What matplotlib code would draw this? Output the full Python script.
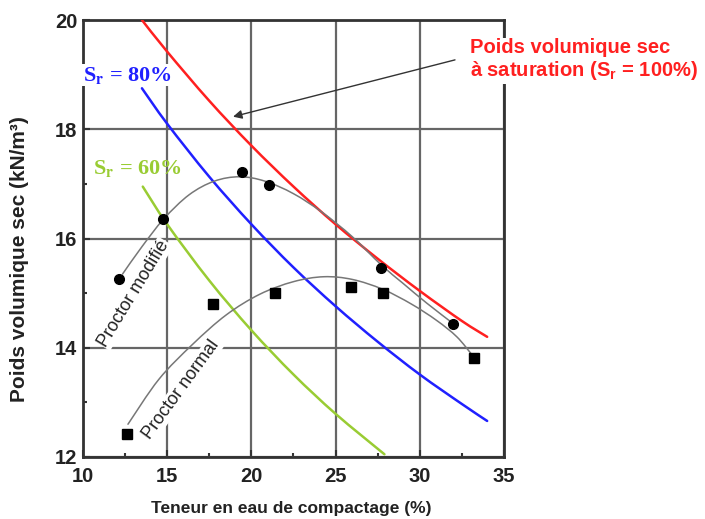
import matplotlib
matplotlib.use("Agg")
import matplotlib.pyplot as plt
from matplotlib.ticker import MultipleLocator
from matplotlib.path import Path
from matplotlib.patches import PathPatch

plt.rcParams['font.family'] = ['Liberation Sans', 'DejaVu Sans']
plt.rcParams['mathtext.fontset'] = 'custom'
plt.rcParams['mathtext.rm'] = 'Liberation Sans'
plt.rcParams['mathtext.bf'] = 'Liberation Sans:bold'

# ---- data ----
w_sr100 = [13.5, 15, 17.5, 20, 22.5, 25, 27.5, 30, 32.5, 34]
gd_sr100 = [20.0, 19.42, 18.52, 17.7, 16.95, 16.26, 15.63, 15.04, 14.49, 14.2]
w_sr80 = [13.5, 15, 17.5, 20, 22.5, 25, 27.5, 30, 32.5, 34]
gd_sr80 = [18.75, 18.1, 17.13, 16.26, 15.47, 14.76, 14.11, 13.51, 12.97, 12.66]
w_sr60 = [13.55, 15, 17.5, 20, 22.5, 25, 27.9]
gd_sr60 = [16.95, 16.26, 15.23, 14.32, 13.51, 12.79, 12.05]

w_mod = [12.15, 14.75, 19.45, 21.05, 27.7, 31.95]
gd_mod = [15.25, 16.36, 17.22, 16.98, 15.46, 14.44]
w_norm = [12.6, 17.7, 21.4, 25.9, 27.8, 33.2]
gd_norm = [12.42, 14.80, 15.0, 15.11, 15.0, 13.81]

w_mod_fit = [12.35, 13.5, 14.8, 16.3, 17.8, 19.3, 20.8, 22.5, 24.2, 26.0, 27.7,
             29.0, 30.4, 31.95]
gd_mod_fit = [15.35, 15.85, 16.36, 16.8, 17.05, 17.13, 17.05, 16.82, 16.48, 16.03, 15.52,
              15.18, 14.82, 14.45]
w_norm_fit = [12.67, 14.5, 16.5, 18.5, 20.5, 22.5, 24.3, 26.0, 27.8, 29.5, 31.0,
              32.2, 33.1]
gd_norm_fit = [12.6, 13.42, 14.06, 14.6, 14.98, 15.21, 15.30, 15.25, 15.07, 14.8, 14.5,
               14.2, 13.87]

x_ticks = [10, 15, 20, 25, 30, 35]
y_ticks = [12, 14, 16, 18, 20]


def smooth_curve(ax, xs, ys, **kw):
    """Draw a smooth (Catmull-Rom / cubic Bezier) path through the given points."""
    pts = list(zip(xs, ys))
    n = len(pts)
    verts = [pts[0]]
    codes = [Path.MOVETO]
    for i in range(n - 1):
        p0 = pts[i - 1] if i > 0 else pts[i]
        p1 = pts[i]
        p2 = pts[i + 1]
        p3 = pts[i + 2] if i + 2 < n else pts[i + 1]
        c1 = (p1[0] + (p2[0] - p0[0]) / 6, p1[1] + (p2[1] - p0[1]) / 6)
        c2 = (p2[0] - (p3[0] - p1[0]) / 6, p2[1] - (p3[1] - p1[1]) / 6)
        verts += [c1, c2, p2]
        codes += [Path.CURVE4] * 3
    patch = PathPatch(Path(verts, codes), fill=False, transform=ax.transData,
                      capstyle='round', joinstyle='round', **kw)
    ax.add_patch(patch)
    return patch


W, H = 705, 519
fig = plt.figure(figsize=(W / 100, H / 100), dpi=100)
ax = fig.add_axes([83 / W, 1 - 457 / H, (504 - 83) / W, (457 - 20) / H])
ax.set_xlim(10, 35)
ax.set_ylim(12, 20)
ax.set_xticks(x_ticks)
ax.set_yticks(y_ticks)
ax.xaxis.set_minor_locator(MultipleLocator(2.5))
ax.yaxis.set_minor_locator(MultipleLocator(1))
ax.tick_params(which='both', direction='in', colors='#333333', width=1.5,
               labelcolor='#222222', labelsize=14.5)
ax.tick_params(which='major', length=5)
ax.tick_params(which='minor', length=3)
ax.tick_params(axis='x', pad=7)
ax.tick_params(axis='y', pad=4)
for lab in ax.get_xticklabels() + ax.get_yticklabels():
    lab.set_fontweight('bold')
for sp in ax.spines.values():
    sp.set_linewidth(2)
    sp.set_color('#333333')
ax.grid(True, which='major', color='#666666', lw=1.6, zorder=0)
ax.set_axisbelow(True)

smooth_curve(ax, w_sr100, gd_sr100, edgecolor='#ff2020', lw=1.8, zorder=3)
smooth_curve(ax, w_sr80, gd_sr80, edgecolor='#2020ff', lw=1.8, zorder=3)
smooth_curve(ax, w_sr60, gd_sr60, edgecolor='#99cc33', lw=1.8, zorder=3)

smooth_curve(ax, w_mod_fit, gd_mod_fit, edgecolor='#777777', lw=1.1, zorder=4)
smooth_curve(ax, w_norm_fit, gd_norm_fit, edgecolor='#777777', lw=1.1, zorder=4)
ax.plot(w_mod, gd_mod, 'o', color='black', ms=7, zorder=5)
ax.plot(w_norm, gd_norm, 's', color='black', ms=6.5, zorder=5)

ax.text(13.03, 14.99, 'Proctor modifié', rotation=58.7, rotation_mode='anchor',
        ha='center', va='center', fontsize=13, color='#222222', zorder=4,
        bbox=dict(facecolor='white', edgecolor='none', pad=0.5))
ax.text(15.85, 13.24, 'Proctor normal', rotation=54, rotation_mode='anchor',
        ha='center', va='center', fontsize=13, color='#222222', zorder=4,
        bbox=dict(facecolor='white', edgecolor='none', pad=0.5))

ax.annotate('', xy=(18.91, 18.23), xytext=(32.09, 19.27),
            arrowprops=dict(arrowstyle='-|>', color='#333333', lw=1.0,
                            mutation_scale=13, shrinkA=0, shrinkB=0), zorder=6)

fig.text(470 / W, 1 - 60 / H, 'Poids volumique sec\nà saturation (S$_\\mathbf{r}$ = 100%)',
         color='#ff2020', fontsize=14.5, fontweight='bold', ha='left', va='center',
         linespacing=1.15, math_fontfamily='custom',
         bbox=dict(facecolor='white', edgecolor='none', pad=1), zorder=10)

fig.text(83 / W, 1 - 75 / H, 'S$_\\mathbf{r}$ = 80%', color='#2020ff', fontsize=16,
         fontweight='bold', family='Liberation Serif', math_fontfamily='stix',
         ha='left', va='center', bbox=dict(facecolor='white', edgecolor='none', pad=0.5),
         zorder=10)
fig.text(93 / W, 1 - 168 / H, 'S$_\\mathbf{r}$ = 60%', color='#99cc33', fontsize=16,
         fontweight='bold', family='Liberation Serif', math_fontfamily='stix',
         ha='left', va='center', zorder=10)

fig.text(291 / W, 1 - 508 / H, 'Teneur en eau de compactage (%)', fontsize=12.5,
         fontweight='bold', color='#222222', ha='center', va='center')
fig.text(20 / W, 1 - 259 / H, 'Poids volumique sec (kN/m³)', fontsize=15,
         fontweight='bold', color='#222222', ha='center', va='center', rotation=90)

fig.savefig('out.png', dpi=100, facecolor='white')
